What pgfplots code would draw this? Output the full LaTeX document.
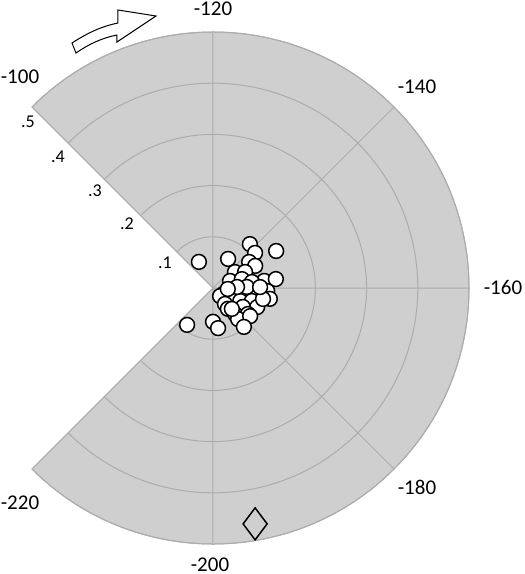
\documentclass[border=0pt]{standalone}
\usepackage{pgfplots}
\pgfplotsset{compat=1.18}
\usepgfplotslibrary{polar}
\usepackage{pgfplotstable}
\usepackage{fontspec}
\setmainfont{Carlito}

\definecolor{sector}{RGB}{207,207,207}
\definecolor{gridc}{RGB}{172,172,172}
\newdimen\Rdim

% angle in chart units (-100 ... -220, clockwise), radius 0 ... 0.5
\pgfplotstableread{
ang r
-107.4 0.058
-137.8 0.112
-142.3 0.107
-146.5 0.143
-132.2 0.064
-144.1 0.087
-147.7 0.093
-144.0 0.053
-148.2 0.070
-156.5 0.101
-156.4 0.124
-150.0 0.036
-152.4 0.059
-156.1 0.077
-161.4 0.106
-173.8 0.023
-181.7 0.021
-168.9 0.046
-163.2 0.063
-164.5 0.089
-164.8 0.113
-183.6 0.039
-171.4 0.059
-168.2 0.080
-184.2 0.050
-174.4 0.069
-170.4 0.094
-182.1 0.067
-176.3 0.085
-182.7 0.078
-176.5 0.091
-215.6 0.088
-200.0 0.066
-196.8 0.079
-182.9 0.097
-181.3 0.055
-165.5 0.100
-159.2 0.066
-158.9 0.047
-161.7 0.029
-159.5 0.092
}\points

\pgfplotstableread{
ang r
-195.5 0.468
}\mean

\begin{document}
\begin{tikzpicture}
\begin{polaraxis}[
    scale only axis,
    width=256pt, height=256pt,
    xmin=-135, xmax=135, ymin=0, ymax=0.5,
    xtick={-135,-90,-45,0,45,90,135},
    xticklabels={},
    ytick={0.1,0.2,0.3,0.4,0.5},
    yticklabels={},
    grid=major,
    major grid style={draw=gridc, line width=0.5pt},
    axis line style={draw=gridc, line width=0.5pt},
    axis background/.style={fill=sector},
    tick style={draw=none},
    clip=false,
]
\addplot[only marks, mark=*, mark size=3.7pt,
    mark options={fill=white, draw=black, line width=0.75pt}]
    table[x expr={90+2.25*(\thisrow{ang}+120)}, y=r] {\points};
\addplot[only marks, mark=diamond, mark size=8pt,
    mark options={fill=white, draw=black, line width=0.75pt}]
    table[x expr={90+2.25*(\thisrow{ang}+120)}, y=r] {\mean};
\coordinate (O) at (axis cs:0,0);
\coordinate (E) at (axis cs:0,0.5);
\end{polaraxis}
\pgfextractx{\Rdim}{\pgfpointdiff{\pgfpointanchor{O}{center}}{\pgfpointanchor{E}{center}}}
\pgfmathsetlengthmacro\pxu{\Rdim/256}
\pgfmathsetlengthmacro\fa{21*\pxu}
\pgfmathsetlengthmacro\fb{18*\pxu}
\begin{scope}[shift={(O)}, x=\pxu, y=\pxu]
% angle labels
\begin{scope}[every node/.style={inner sep=0pt, font=\fontsize{\fa}{\fa}\selectfont}]
\node at (0,279) {-120};
\node at (204,201) {-140};
\node at (290,1) {-160};
\node at (204,-199) {-180};
\node at (-3,-277) {-200};
\node at (-193,-215) {-220};
\node at (-193,211) {-100};
\end{scope}
% radius labels
\begin{scope}[every node/.style={inner sep=0pt, font=\fontsize{\fb}{\fb}\selectfont}]
\node at (-48,25) {.1};
\node at (-86,64) {.2};
\node at (-118,97) {.3};
\node at (-155,131) {.4};
\node at (-185,166) {.5};
\end{scope}
% direction arrow
\draw[black, line width=0.5pt, fill=white, line join=miter]
    (-137,235) -- (-141,245) .. controls (-124,256) and (-110,262) .. (-95,265)
    -- (-95,278) -- (-57,272) -- (-96,246) -- (-96,253)
    .. controls (-111,250) and (-124,244) .. cycle;
\pgfresetboundingbox
\path (-213,-286) rectangle (312,288);
\end{scope}
\end{tikzpicture}
\end{document}
